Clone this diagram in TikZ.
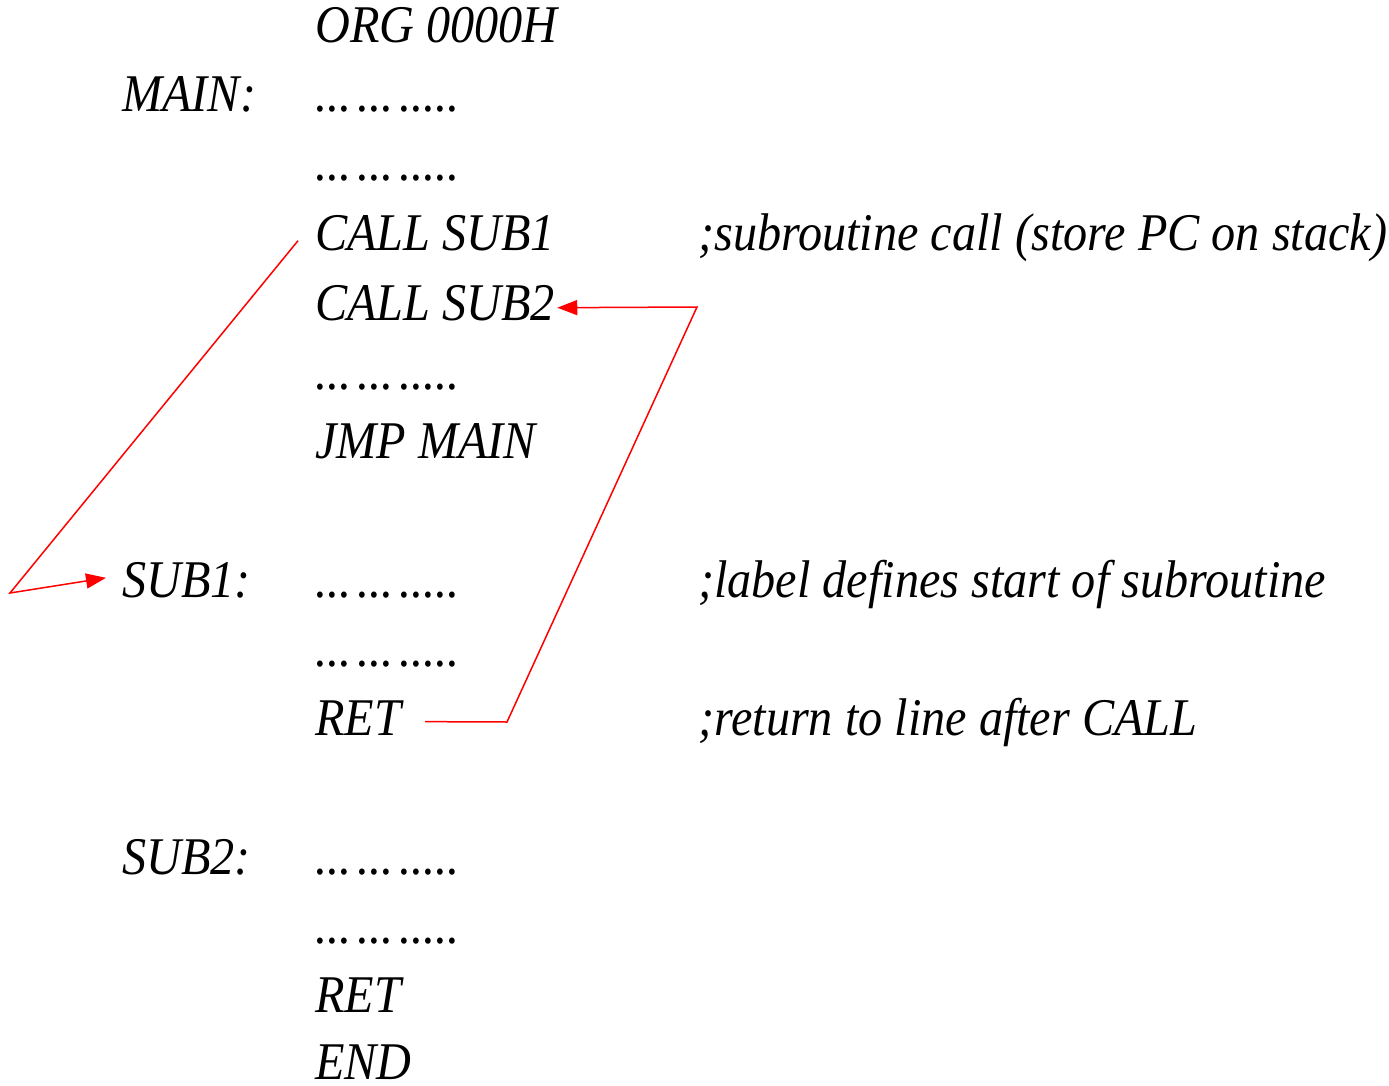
\documentclass[tikz,border=0pt]{standalone}
\usepackage{fontspec}
\setmainfont[FakeStretch=0.91]{Liberation Serif}
\usepackage{tikz}
\usetikzlibrary{positioning, arrows.meta}

\begin{document}
\begin{tikzpicture}[
    x=1pt, y=-1pt,
    font=\fontsize{53}{60}\selectfont\itshape,
    code/.style={
        anchor=base west,
        inner sep=0pt
    },
    arr/.style={-{Triangle[length=20pt, width=15pt]}, draw=red, line width=1.5pt}
]
\useasboundingbox (0,0) rectangle (1389,1086);

\node[code] (org)    at (315,   43) {ORG 0000H};
\node[code] (main)   at (122,  112) {MAIN:};
\node[code] (fill1)  at (315,  112) {...\kern6pt...\kern6pt.....};
\node[code] (fill2)  at (315,  181) {...\kern6pt...\kern6pt.....};
\node[code] (call1)  at (315,  250) {CALL SUB1};
\node[code] (call2)  at (315,  320) {CALL SUB2};
\node[code] (fill3)  at (315,  389) {...\kern6pt...\kern6pt.....};
\node[code] (jmp)    at (315,  458) {JMP MAIN};

\node[code] (sub1)   at (122,  597) {SUB1:};
\node[code] (fill4)  at (315,  597) {...\kern6pt...\kern6pt.....};
\node[code] (fill5)  at (315,  666) {...\kern6pt...\kern6pt.....};
\node[code] (ret1)   at (315,  735) {RET};

\node[code] (sub2)   at (122,  874) {SUB2:};
\node[code] (fill6)  at (315,  874) {...\kern6pt...\kern6pt.....};
\node[code] (fill7)  at (315,  943) {...\kern6pt...\kern6pt.....};
\node[code] (ret2)   at (315, 1012) {RET};
\node[code] (end)    at (315, 1079) {END};

\node[code] (cmcall) at (698,  250) {;subroutine call (store PC on stack)};
\node[code] (cmsub)  at (698,  597) {;label defines start of subroutine};
\node[code] (cmret)  at (698,  735) {;return to line after CALL};

\coordinate (bendA) at (10, 593);
\coordinate (bendB) at (507, 722);
\coordinate (bendC) at (697, 307);

\draw[arr] ([xshift=-17pt, yshift=-8pt]call1.west) -- (bendA) -- ([xshift=-16pt, yshift=2pt]sub1.west);
\draw[arr] ([xshift=24pt, yshift=-4pt]ret1.east) -- (bendB) -- (bendC) -- ([xshift=2pt, yshift=-5pt]call2.east);

\end{tikzpicture}
\end{document}
